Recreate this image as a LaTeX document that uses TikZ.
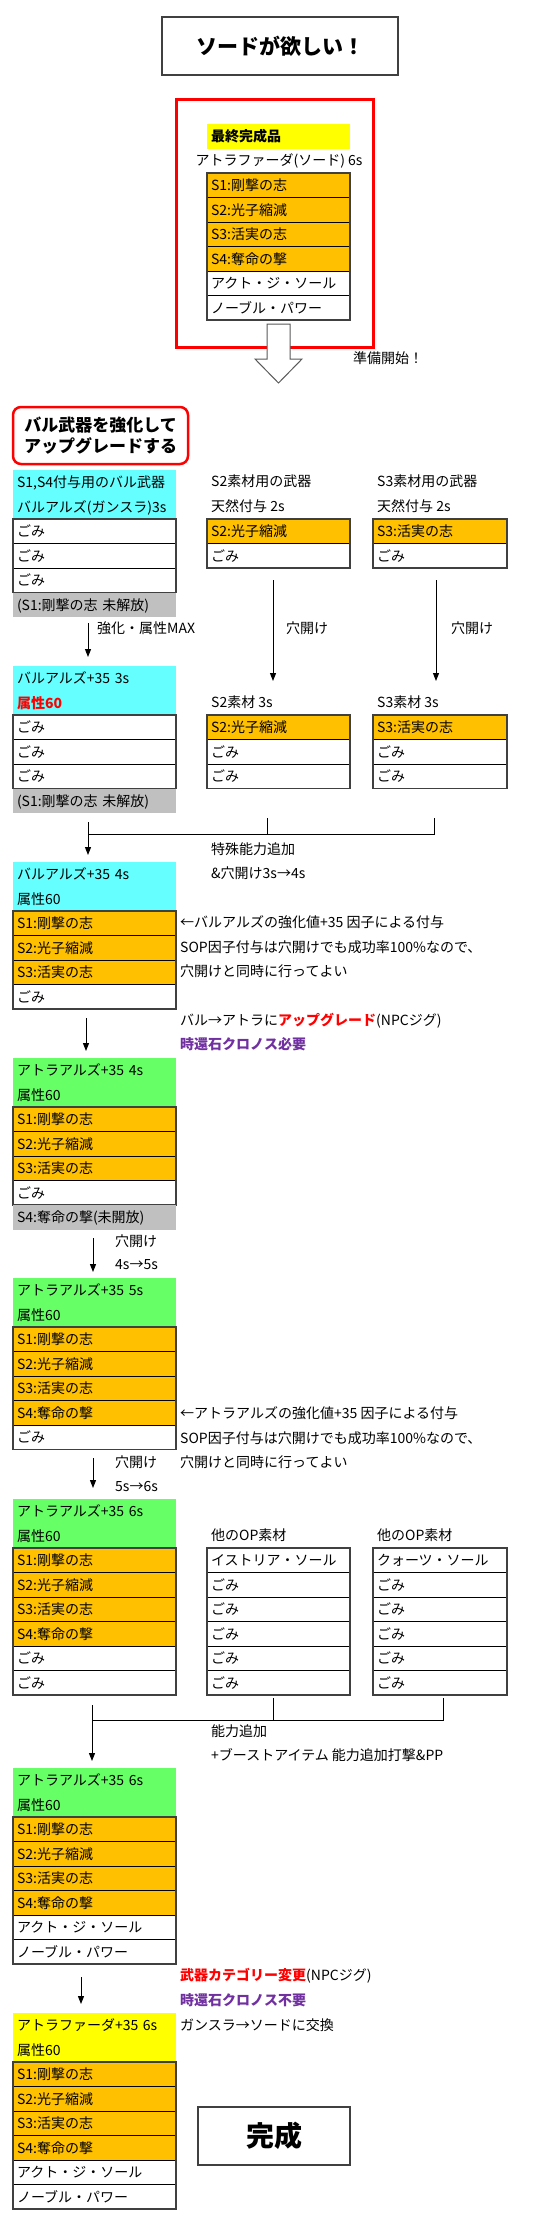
\documentclass[tikz,border=0pt]{standalone}
\usepackage{fontspec}
\setmainfont{Noto Sans CJK JP}
\usetikzlibrary{arrows.meta,calc}
\definecolor{orng}{HTML}{FFC000}
\definecolor{cyn}{HTML}{66FFFF}
\definecolor{grn}{HTML}{66FF66}
\definecolor{ylw}{HTML}{FFFF00}
\definecolor{gry}{HTML}{C0C0C0}
\definecolor{prp}{HTML}{7030A0}
\definecolor{edge}{HTML}{404040}
\newcommand\fs{\fontsize{14pt}{17pt}\selectfont}
\newcommand\rowlist[5]{\foreach [count=\i] \cc/\tx in {#5} {\node[#2, box, fill=\cc] (#1\i) at (#3,{#4+(\i-1)*24.5}) {\tx};}}
\begin{document}
\begin{tikzpicture}[x=1pt,y=-1pt,
 cell/.style={anchor=north west, outer sep=0pt, inner xsep=4pt, inner ysep=0pt, minimum height=24.5pt, text height=12pt, text depth=1.5pt, align=left, font=\fs},
 cL/.style={cell, text width=155pt},
 cM/.style={cell, text width=135pt},
 cR/.style={cell, text width=126pt},
 box/.style={draw=black, line width=0.8pt},
 frame/.style={draw=edge, line width=1.3pt},
 lab/.style={anchor=west, inner sep=0pt, font=\fs},
 conn/.style={draw=black, line width=1pt},
 arr/.style={conn, -{Triangle[length=8pt,width=6pt]}},
 bigbox/.style={draw=edge, line width=1.2pt, inner sep=0pt},
]
\useasboundingbox (0,0) rectangle (550,2235);

% title
\node[bigbox, minimum width=236pt, minimum height=58pt, font=\bfseries\fontsize{21pt}{24pt}\selectfont] (title) at (280,46) {ソードが欲しい！};

% goal
\node[draw=red, line width=3pt, minimum width=197pt, minimum height=248pt, inner sep=0pt] (goal) at (274.5,223) {};
\node[cM, fill=ylw, font=\bfseries\fs] (gh) at (207,124) {最終完成品};
\node[lab, anchor=center] (gn) at (279,161) {アトラファーダ(ソード) 6s};
\rowlist{F}{cM}{207}{173}{orng/S1:剛撃の志, orng/S2:光子縮減, orng/S3:活実の志, orng/S4:奪命の撃, white/アクト・ジ・ソール, white/ノーブル・パワー}
\draw[frame] (F1.north west) rectangle (F6.south east);

% block arrow
\draw[draw=gray!70!black, fill=white, line width=1pt] (267,324) -- (290,324) -- (290,359) -- (302,359) -- (278.5,383) -- (255,359) -- (267,359) -- cycle;
\node[lab] (start) at (353,358) {準備開始！};

% red rounded box
\node[draw=red, line width=2.5pt, rounded corners=8pt, minimum width=175pt, minimum height=57pt, align=center, font=\bfseries\fontsize{17pt}{21pt}\selectfont] (bal) at (100.5,435.5) {バル武器を強化して\\アップグレードする};

% ---- stage 1
\node[cL, fill=cyn] (L1a) at (13,470) {S1,S4付与用のバル武器};
\node[cL, fill=cyn] (L1b) at (13,494.5) {バルアルズ(ガンスラ)3s};
\rowlist{L1r}{cL}{13}{519}{white/ごみ, white/ごみ, white/ごみ}
\draw[frame] (L1r1.north west) rectangle (L1r3.south east);
\node[cL, fill=gry] (L1g) at (13,592.5) {(S1:剛撃の志 未解放)};

\node[lab] (M1a) at (211,481) {S2素材用の武器};
\node[lab] (M1b) at (211,506) {天然付与 2s};
\rowlist{M1r}{cM}{207}{519}{orng/S2:光子縮減, white/ごみ}
\draw[frame] (M1r1.north west) rectangle (M1r2.south east);

\node[lab] (R1a) at (377,481) {S3素材用の武器};
\node[lab] (R1b) at (377,506) {天然付与 2s};
\rowlist{R1r}{cR}{373}{519}{orng/S3:活実の志, white/ごみ}
\draw[frame] (R1r1.north west) rectangle (R1r2.south east);

% ---- stage 2
\node[cL, fill=cyn] (L2a) at (13,666) {バルアルズ+35 3s};
\node[cL, fill=cyn] (L2b) at (13,690.5) {{\bfseries\color{red}属性60}};
\rowlist{L2r}{cL}{13}{715}{white/ごみ, white/ごみ, white/ごみ}
\draw[frame] (L2r1.north west) rectangle (L2r3.south east);
\node[cL, fill=gry] (L2g) at (13,788.5) {(S1:剛撃の志 未解放)};

\node[lab] (M2a) at (211,702) {S2素材 3s};
\rowlist{M2r}{cM}{207}{715}{orng/S2:光子縮減, white/ごみ, white/ごみ}
\draw[frame] (M2r1.north west) rectangle (M2r3.south east);

\node[lab] (R2a) at (377,702) {S3素材 3s};
\rowlist{R2r}{cR}{373}{715}{orng/S3:活実の志, white/ごみ, white/ごみ}
\draw[frame] (R2r1.north west) rectangle (R2r3.south east);

\node[lab] (t12a) at (97,628) {強化・属性MAX};
\node[lab] (t12b) at (286,628) {穴開け};
\node[lab] (t12c) at (451,628) {穴開け};
\node[lab] (t23a) at (211,849) {特殊能力追加};
\node[lab] (t23b) at (211,873) {\&穴開け3s→4s};

% ---- stage 3
\node[cL, fill=cyn] (L3a) at (13,862) {バルアルズ+35 4s};
\node[cL, fill=cyn] (L3b) at (13,886.5) {属性60};
\rowlist{L3r}{cL}{13}{911}{orng/S1:剛撃の志, orng/S2:光子縮減, orng/S3:活実の志, white/ごみ}
\draw[frame] (L3r1.north west) rectangle (L3r4.south east);
\node[lab] (n3a) at (180,922) {←バルアルズの強化値+35 因子による付与};
\node[lab] (n3b) at (180,947) {SOP因子付与は穴開けでも成功率100\%なので、};
\node[lab] (n3c) at (180,971) {穴開けと同時に行ってよい};
\node[lab] (n3d) at (180,1021) {バル→アトラに{\bfseries\color{red}アップグレード}(NPCジグ)};
\node[lab, font=\bfseries\fs, text=prp] (n3e) at (180,1044) {時還石クロノス必要};

% ---- stage 4
\node[cL, fill=grn] (L4a) at (13,1058) {アトラアルズ+35 4s};
\node[cL, fill=grn] (L4b) at (13,1082.5) {属性60};
\rowlist{L4r}{cL}{13}{1107}{orng/S1:剛撃の志, orng/S2:光子縮減, orng/S3:活実の志, white/ごみ}
\draw[frame] (L4r1.north west) rectangle (L4r4.south east);
\node[cL, fill=gry] (L4g) at (13,1205) {S4:奪命の撃(未開放)};
\node[lab] (t45a) at (115,1241) {穴開け};
\node[lab] (t45b) at (115,1265) {4s→5s};

% ---- stage 5
\node[cL, fill=grn] (L5a) at (13,1278) {アトラアルズ+35 5s};
\node[cL, fill=grn] (L5b) at (13,1302.5) {属性60};
\rowlist{L5r}{cL}{13}{1327}{orng/S1:剛撃の志, orng/S2:光子縮減, orng/S3:活実の志, orng/S4:奪命の撃, white/ごみ}
\draw[frame] (L5r1.north west) rectangle (L5r5.south east);
\node[lab] (n5a) at (180,1413) {←アトラアルズの強化値+35 因子による付与};
\node[lab] (n5b) at (180,1438) {SOP因子付与は穴開けでも成功率100\%なので、};
\node[lab] (n5c) at (180,1462) {穴開けと同時に行ってよい};
\node[lab] (t56a) at (115,1462) {穴開け};
\node[lab] (t56b) at (115,1486) {5s→6s};

% ---- stage 6
\node[cL, fill=grn] (L6a) at (13,1499) {アトラアルズ+35 6s};
\node[cL, fill=grn] (L6b) at (13,1523.5) {属性60};
\rowlist{L6r}{cL}{13}{1548}{orng/S1:剛撃の志, orng/S2:光子縮減, orng/S3:活実の志, orng/S4:奪命の撃, white/ごみ, white/ごみ}
\draw[frame] (L6r1.north west) rectangle (L6r6.south east);

\node[lab] (M6a) at (211,1535) {他のOP素材};
\rowlist{M6r}{cM}{207}{1548}{white/イストリア・ソール, white/ごみ, white/ごみ, white/ごみ, white/ごみ, white/ごみ}
\draw[frame] (M6r1.north west) rectangle (M6r6.south east);

\node[lab] (R6a) at (377,1535) {他のOP素材};
\rowlist{R6r}{cR}{373}{1548}{white/クォーツ・ソール, white/ごみ, white/ごみ, white/ごみ, white/ごみ, white/ごみ}
\draw[frame] (R6r1.north west) rectangle (R6r6.south east);

\node[lab] (t67a) at (211,1731) {能力追加};
\node[lab] (t67b) at (211,1755) {+ブーストアイテム 能力追加打撃\&PP};

% ---- stage 7
\node[cL, fill=grn] (L7a) at (13,1768) {アトラアルズ+35 6s};
\node[cL, fill=grn] (L7b) at (13,1792.5) {属性60};
\rowlist{L7r}{cL}{13}{1817}{orng/S1:剛撃の志, orng/S2:光子縮減, orng/S3:活実の志, orng/S4:奪命の撃, white/アクト・ジ・ソール, white/ノーブル・パワー}
\draw[frame] (L7r1.north west) rectangle (L7r6.south east);
\node[lab] (n7a) at (180,1976) {{\bfseries\color{red}武器カテゴリー変更}(NPCジグ)};
\node[lab, font=\bfseries\fs, text=prp] (n7b) at (180,2000) {時還石クロノス不要};
\node[lab] (n7c) at (180,2025) {ガンスラ→ソードに交換};

% ---- stage 8
\node[cL, fill=ylw] (L8a) at (13,2013) {アトラファーダ+35 6s};
\node[cL, fill=ylw] (L8b) at (13,2037.5) {属性60};
\rowlist{L8r}{cL}{13}{2062}{orng/S1:剛撃の志, orng/S2:光子縮減, orng/S3:活実の志, orng/S4:奪命の撃, white/アクト・ジ・ソール, white/ノーブル・パワー}
\draw[frame] (L8r1.north west) rectangle (L8r6.south east);

\node[bigbox, minimum width=152pt, minimum height=58pt, font=\bfseries\fontsize{28pt}{32pt}\selectfont] (done) at (274,2136) {完成};

% ---- connectors
\draw[arr] ($(L1g.south west)+(75,6)$) -- ($(L2a.north west)+(75,-9)$);
\draw[arr] ($(M1r2.south west)+(66,12)$) -- ($(M2r1.north west)+(66,-34)$);
\draw[arr] ($(R1r2.south west)+(63,12)$) -- ($(R2r1.north west)+(63,-34)$);

\coordinate (j2m) at ($(M2r3.south west)+(60,29.5)$);
\coordinate (j2r) at ($(R2r3.south west)+(61,29.5)$);
\coordinate (j2l) at ($(L2g.south west)+(75,9)$);
\draw[conn] (j2m) -- ++(0,16);
\draw[conn] (j2r) -- ++(0,16) coordinate (h2) -- (h2 -| j2l);
\draw[arr] (j2l) -- ($(L3a.north west)+(75,-7)$);

\draw[arr] ($(L3r4.south west)+(73,9)$) -- ($(L4a.north west)+(73,-7)$);
\draw[arr] ($(L4g.south west)+(80,8.5)$) -- ($(L5a.north west)+(80,-6)$);
\draw[arr] ($(L5r5.south west)+(80,8.5)$) -- ($(L6a.north west)+(80,-11)$);

\coordinate (j6m) at ($(M6r6.south west)+(66,3)$);
\coordinate (j6r) at ($(R6r6.south west)+(70,3)$);
\coordinate (j6l) at ($(L6r6.south west)+(79,10)$);
\draw[conn] (j6m) -- ++(0,22);
\draw[conn] (j6r) -- ++(0,22) coordinate (h6) -- (h6 -| j6l);
\draw[arr] (j6l) -- ($(L7a.north west)+(79,-7)$);

\draw[arr] ($(L7r6.south west)+(68,13)$) -- ($(L8a.north west)+(68,-9)$);
\end{tikzpicture}
\end{document}
